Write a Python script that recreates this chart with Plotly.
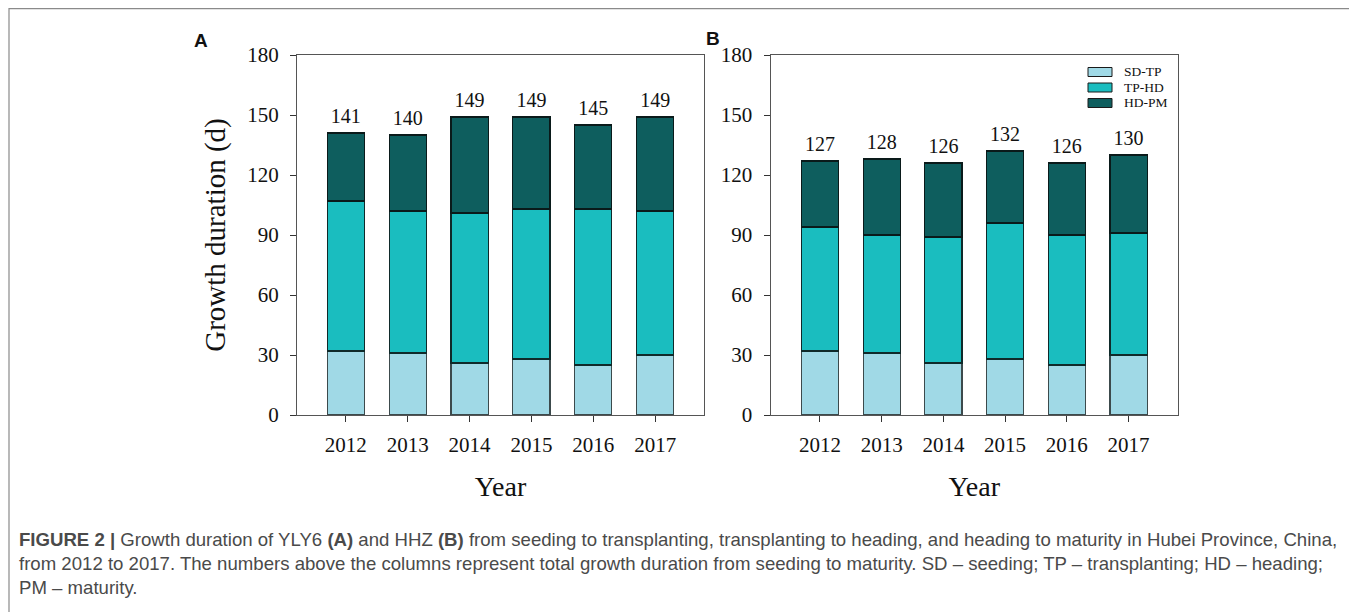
import plotly.graph_objects as go

# page has an 8px body margin; figure is sized to fit the window
OFF = 8
W, H = 1357 - OFF, 612 - OFF


def px(x):
    return (x - OFF) / W


def py(y):
    return 1 - (y - OFF) / H


years = ["2012", "2013", "2014", "2015", "2016", "2017"]
stages = ["SD-TP", "TP-HD", "HD-PM"]
colors = ["#a0d9e6", "#1abdbf", "#0e5e5e"]
outline = ["#3c4a4c", "#0f2a2a", "#0a1a1a"]

# Panel A (YLY6)
a_sd_tp = [32, 31, 26, 28, 25, 30]
a_tp_hd = [75, 71, 75, 75, 78, 72]
a_hd_pm = [34, 38, 48, 46, 42, 47]
a_total = [141, 140, 149, 149, 145, 149]

# Panel B (HHZ)
b_sd_tp = [32, 31, 26, 28, 25, 30]
b_tp_hd = [62, 59, 63, 68, 65, 61]
b_hd_pm = [33, 38, 37, 36, 36, 39]
b_total = [127, 128, 126, 132, 126, 130]

y_ticks = [0, 30, 60, 90, 120, 150, 180]

caption_lines = [
    "<b>FIGURE 2</b> <b>|</b> Growth duration of YLY6 <b>(A)</b> and HHZ <b>(B)</b> from seeding to transplanting, transplanting to heading, and heading to maturity in Hubei Province, China,",
    "from 2012 to 2017. The numbers above the columns represent total growth duration from seeding to maturity. SD \u2013 seeding; TP \u2013 transplanting; HD \u2013 heading;",
    "PM \u2013 maturity.",
]

serif = "Liberation Serif"
fig = go.Figure()

panels = [
    ("x", "y", [a_sd_tp, a_tp_hd, a_hd_pm], a_total),
    ("x2", "y2", [b_sd_tp, b_tp_hd, b_hd_pm], b_total),
]
for xa, ya, series, totals in panels:
    for i, (name, vals) in enumerate(zip(stages, series)):
        fig.add_trace(go.Bar(
            x=years, y=vals, name=name, xaxis=xa, yaxis=ya,
            marker=dict(color=colors[i], line=dict(color=outline[i], width=1.2)),
            width=0.6, showlegend=False,
        ))
    fig.add_trace(go.Scatter(
        x=years, y=totals, text=[str(t) for t in totals], mode="markers+text",
        marker=dict(size=6, opacity=0), cliponaxis=False,
        textposition="top center", xaxis=xa, yaxis=ya, showlegend=False,
        textfont=dict(family=serif, size=20, color="#111"), hoverinfo="skip",
    ))

ax_common = dict(
    showline=True, linecolor="#555", linewidth=1, mirror=True, automargin=False,
    ticks="outside", ticklen=6, tickcolor="#333", tickwidth=1,
    tickfont=dict(family=serif, size=21, color="#111"), showgrid=False, zeroline=False,
)
x_common = dict(ax_common, ticklabelstandoff=5)
y_common = dict(ax_common, ticklabelstandoff=7)
ydom = [py(415), py(55)]
fig.update_layout(
    template="none",
    width=W, height=H, margin=dict(l=0, r=0, t=0, b=0, autoexpand=False),
    paper_bgcolor="white", plot_bgcolor="white", barmode="stack",
    xaxis=dict(domain=[px(297), px(704)], range=[-0.79, 5.79], type="category",
               title=dict(text="Year", font=dict(family=serif, size=28, color="#111"), standoff=20),
               **x_common),
    xaxis2=dict(domain=[px(770.5), px(1178)], range=[-0.8, 5.8], type="category",
                title=dict(text="Year", font=dict(family=serif, size=28, color="#111"), standoff=20),
                anchor="y2", **x_common),
    yaxis=dict(domain=ydom, range=[0, 180], tickvals=y_ticks, anchor="x",
               title=dict(text="Growth duration (d)", font=dict(family=serif, size=29, color="#111"), standoff=13),
               **y_common),
    yaxis2=dict(domain=ydom, range=[0, 180], tickvals=y_ticks, anchor="x2", **y_common),
    showlegend=False,
)

# legend (panel B), built from the stage names and colours
for i, (name, col) in enumerate(zip(stages, colors)):
    yc = 72 + 15.5 * i
    fig.add_shape(type="rect", xref="paper", yref="paper",
                  x0=px(1088), x1=px(1112), y0=py(yc + 4.5), y1=py(yc - 4.5),
                  fillcolor=col, line=dict(color="#1a1a1a", width=1))
    fig.add_annotation(x=px(1122), y=py(yc), xref="paper", yref="paper", text=name,
                       showarrow=False, xanchor="left", yanchor="middle",
                       font=dict(family=serif, size=13.5, color="#111"))

# panel letters
fig.add_annotation(x=px(201), y=py(40), xref="paper", yref="paper", text="<b>A</b>",
                   showarrow=False, xanchor="center", yanchor="middle",
                   font=dict(family="Liberation Sans", size=19, color="#111"))
fig.add_annotation(x=px(713), y=py(38), xref="paper", yref="paper", text="<b>B</b>",
                   showarrow=False, xanchor="center", yanchor="middle",
                   font=dict(family="Liberation Sans", size=19, color="#111"))

# caption
for k, line in enumerate(caption_lines):
    fig.add_annotation(x=px(17), y=py(539 + 24 * k), xref="paper", yref="paper", text=line,
                       showarrow=False, xanchor="left", yanchor="middle", align="left",
                       font=dict(family="Liberation Sans", size=18.6, color="#4a4a4a"))

# outer border
fig.add_shape(type="rect", xref="paper", yref="paper", x0=px(9), x1=px(1352), y0=-0.05, y1=1 - 0.6 / H,
              line=dict(color="#8a8a8a", width=1.2))

fig.write_html("out.html")
